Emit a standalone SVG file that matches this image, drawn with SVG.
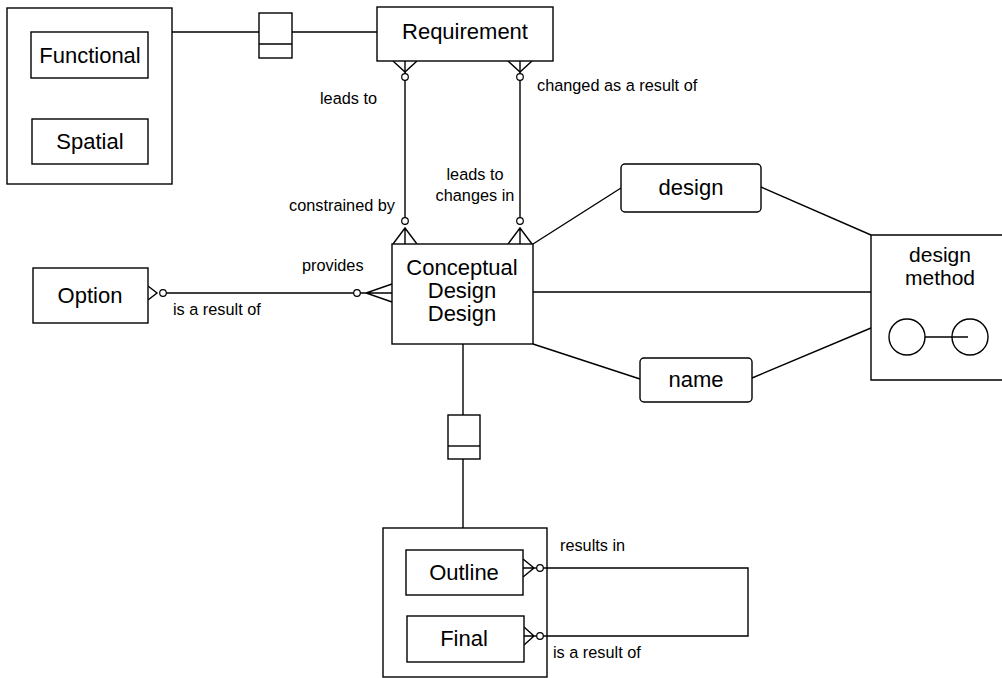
<svg xmlns="http://www.w3.org/2000/svg" width="1002" height="678" viewBox="0 0 1002 678">
<style>
.box{fill:#fff;stroke:#000;stroke-width:1.4}
.frame{fill:none;stroke:#000;stroke-width:1.4}
.ln{fill:none;stroke:#000;stroke-width:1.4}
.oc{fill:#fff;stroke:#000;stroke-width:1.2}
.t{font-family:"Liberation Sans",Arial,sans-serif;font-size:22px;fill:#000;text-anchor:middle}
.l{font-family:"Liberation Sans",Arial,sans-serif;font-size:16.3px;fill:#000}
</style>
<rect width="1002" height="678" fill="#fff"/>
<g id="requirement-types">
<rect class="frame" x="7" y="8" width="165" height="176"/>
</g>
<g id="design-types">
<rect class="frame" x="383" y="528" width="164" height="149"/>
</g>
<g id="connectors">
<path class="ln" d="M172,32 H259 M292,32 H377"/>
<path class="ln" d="M405,61 V225 M520,61 V225"/>
<path class="ln" d="M393,61 L405,72 L417,61 M508,61 L520,72 L532,61"/>
<path class="ln" d="M405,228 V244 M393,244 L405,228 L417,244 M520,228 V244 M508,244 L520,228 L532,244"/>
<circle class="oc" cx="405" cy="77" r="3.3"/>
<circle class="oc" cx="520" cy="77" r="3.3"/>
<circle class="oc" cx="405" cy="221" r="3.3"/>
<circle class="oc" cx="520" cy="221" r="3.3"/>
<path class="ln" d="M166,293 H354 M360,293 H392 M392,284 L366,293 L392,302 M148,286 L157,293 L148,300"/>
<circle class="oc" cx="163" cy="293" r="3.3"/>
<circle class="oc" cx="357" cy="293" r="3.3"/>
<path class="ln" d="M533,244 L621,188 M761,187 L871,235 M533,292 H871 M533,344 L640,379 M752,378 L871,328"/>
<path class="ln" d="M463,344 V415 M463,459 V528"/>
<path class="ln" d="M543,568 H748 V636 H543"/>
<path class="ln" d="M523,559 L534,568 L523,577 M523,568 H537 M524,627 L534,636 L524,645 M524,636 H537"/>
<circle class="oc" cx="540" cy="568" r="3.3"/>
<circle class="oc" cx="540" cy="636" r="3.3"/>
</g>
<g id="functional">
<rect class="box" x="31" y="32" width="117" height="46"/>
<text class="t" x="90" y="63">Functional</text>
</g>
<g id="spatial">
<rect class="box" x="32" y="119" width="116" height="45"/>
<text class="t" x="90" y="149">Spatial</text>
</g>
<g id="subtype-link-top">
<rect class="box" x="259" y="13" width="33" height="45"/>
<path class="ln" d="M259,44 H292"/>
</g>
<g id="requirement">
<rect class="box" x="377" y="7" width="176" height="54"/>
<text class="t" x="465" y="39">Requirement</text>
</g>
<g id="option">
<rect class="box" x="33" y="268" width="115" height="55"/>
<text class="t" x="90" y="303">Option</text>
</g>
<g id="conceptual-design">
<rect class="box" x="392" y="244" width="141" height="100"/>
<text class="t" x="462" y="275">Conceptual</text>
<text class="t" x="462" y="298">Design</text>
<text class="t" x="462" y="321">Design</text>
</g>
<g id="design">
<rect class="box" x="621" y="164" width="140" height="48" rx="4"/>
<text class="t" x="691" y="195">design</text>
</g>
<g id="name">
<rect class="box" x="640" y="358" width="112" height="44" rx="4"/>
<text class="t" x="696" y="387">name</text>
</g>
<g id="design-method">
<path class="ln" d="M1002,235 H871 V380 H1002"/>
<text class="t" x="940" y="262" style="font-size:21px">design</text>
<text class="t" x="940" y="285" style="font-size:21px">method</text>
<circle class="ln" cx="907" cy="337" r="18"/>
<circle class="ln" cx="970" cy="337" r="18"/>
<path class="ln" d="M925,337 H968"/>
</g>
<g id="subtype-link-bottom">
<rect class="box" x="448" y="415" width="32" height="44"/>
<path class="ln" d="M448,446 H480"/>
</g>
<g id="outline">
<rect class="box" x="406" y="550" width="117" height="45"/>
<text class="t" x="464" y="580">Outline</text>
</g>
<g id="final">
<rect class="box" x="407" y="616" width="117" height="46"/>
<text class="t" x="464" y="646">Final</text>
</g>
<g id="labels">
<text class="l" x="320" y="104">leads to</text>
<text class="l" x="537" y="91">changed as a result of</text>
<text class="l" x="475" y="180" text-anchor="middle">leads to</text>
<text class="l" x="475" y="201" text-anchor="middle">changes in</text>
<text class="l" x="395" y="211" text-anchor="end">constrained by</text>
<text class="l" x="302" y="271">provides</text>
<text class="l" x="173" y="315">is a result of</text>
<text class="l" x="560" y="551">results in</text>
<text class="l" x="553" y="658">is a result of</text>
</g>
</svg>
